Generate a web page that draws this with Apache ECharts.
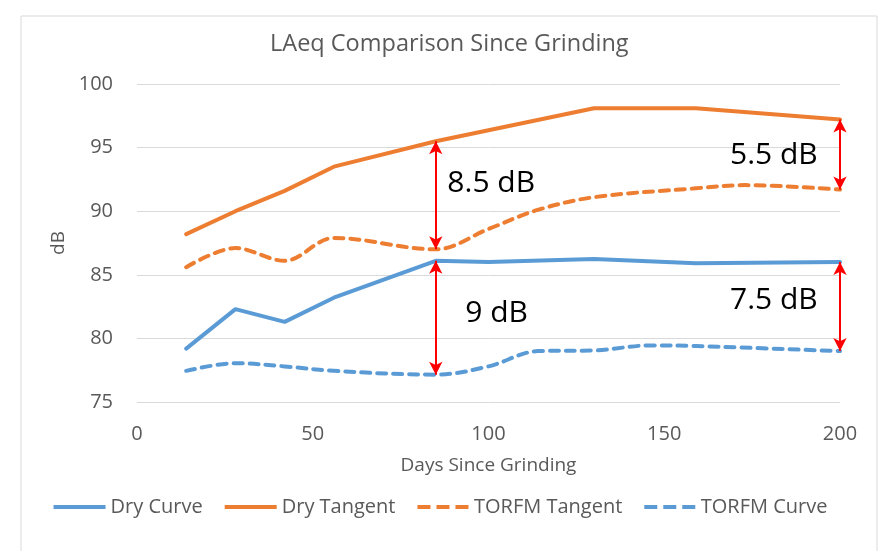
<!DOCTYPE html>
<html>
<head>
<meta charset="utf-8">
<script src="https://cdn.jsdelivr.net/npm/echarts@6/dist/echarts.min.js"></script>
<style>
  html, body { margin: 0; padding: 0; background: #ffffff; }
  #chart { width: 881px; height: 551px; }
</style>
</head>
<body>
<div id="chart"></div>
<script>
// Days since grinding at which each series was measured, and the LAeq (dB) readings
var dryCurveDays = [14, 28, 42, 56, 85, 100, 130, 159, 200];
var dryCurveValues = [79.2, 82.3, 81.3, 83.2, 86.1, 86.0, 86.25, 85.9, 86.0];

var dryTangentDays = [14, 28, 42, 56, 85, 130, 159, 200];
var dryTangentValues = [88.2, 90.0, 91.6, 93.5, 95.5, 98.1, 98.1, 97.2];

var torfmTangentDays = [14, 28, 42, 56, 85, 100, 114, 130, 159, 173, 200];
var torfmTangentValues = [85.6, 87.1, 86.1, 87.9, 87.0, 88.6, 90.1, 91.1, 91.8, 92.05, 91.7];

var torfmCurveDays = [14, 28, 42, 56, 85, 100, 114, 130, 146, 159, 200];
var torfmCurveValues = [77.45, 78.05, 77.8, 77.45, 77.15, 77.8, 79.0, 79.05, 79.45, 79.4, 79.0];

var seriesNames = ['Dry Curve', 'Dry Tangent', 'TORFM Tangent', 'TORFM Curve'];

// Difference annotations: arrow day, upper series, lower series, text and where the text sits
var gapNotes = [
  { day: 85,  upper: 'dryTangent', lower: 'torfmTangent', text: '8.5 dB', at: [88.3, 92.2] },
  { day: 85,  upper: 'dryCurve',   lower: 'torfmCurve',   text: '9 dB',   at: [93.4, 82.0] },
  { day: 200, upper: 'dryTangent', lower: 'torfmTangent', text: '5.5 dB', at: [168.7, 94.4] },
  { day: 200, upper: 'dryCurve',   lower: 'torfmCurve',   text: '7.5 dB', at: [168.7, 82.95] }
];

var xTicks = { min: 0, max: 200, interval: 50 };
var yTicks = { min: 75, max: 100, interval: 5 };

function pairs(days, values) {
  return days.map(function (d, i) { return [d, values[i]]; });
}

var seriesData = {
  dryCurve: { days: dryCurveDays, values: dryCurveValues },
  dryTangent: { days: dryTangentDays, values: dryTangentValues },
  torfmTangent: { days: torfmTangentDays, values: torfmTangentValues },
  torfmCurve: { days: torfmCurveDays, values: torfmCurveValues }
};

function valueAt(key, day) {
  var s = seriesData[key];
  return s.values[s.days.indexOf(day)];
}

var FONT = 'Open Sans';
var BLUE = '#5B9BD5';
var ORANGE = '#ED7D31';
var RED = '#FF0000';

// Legend keys: a plain bar for solid series, three short bars for dashed ones
var SOLID_KEY = 'path://M0,0 L52,0 L52,4 L0,4 Z';
var DASH_KEY = 'path://M1,0 L14,0 L14,4 L1,4 Z M20,0 L33,0 L33,4 L20,4 Z M39,0 L52,0 L52,4 L39,4 Z';
var legendKeys = [SOLID_KEY, SOLID_KEY, DASH_KEY, DASH_KEY];

var arrowLines = gapNotes.map(function (n) {
  return [
    { coord: [n.day, valueAt(n.upper, n.day)] },
    { coord: [n.day, valueAt(n.lower, n.day)] }
  ];
});

var noteLabels = gapNotes.map(function (n) {
  return {
    coord: n.at,
    value: n.text,
    label: { formatter: n.text }
  };
});

var chart = echarts.init(document.getElementById('chart'), null, { renderer: 'canvas' });

chart.setOption({
  backgroundColor: '#ffffff',
  animation: false,
  textStyle: { fontFamily: FONT },
  graphic: [{
    type: 'rect',
    shape: { x: 21, y: 16, width: 856, height: 560 },
    style: { fill: 'none', stroke: '#D9D9D9', lineWidth: 1 },
    silent: true,
    z: -10
  }],
  title: {
    text: 'LAeq Comparison Since Grinding',
    left: 270,
    top: 32,
    padding: 0,
    textStyle: { fontFamily: FONT, fontSize: 23.5, fontWeight: 'normal', color: '#595959' }
  },
  legend: {
    data: seriesNames.map(function (name, i) {
      return { name: name, icon: legendKeys[i] };
    }),
    bottom: 29,
    left: 'center',
    itemWidth: 52,
    itemHeight: 4,
    itemGap: 22,
    textStyle: { fontFamily: FONT, fontSize: 20, color: '#595959' }
  },
  grid: { left: 137, right: 41, top: 84, bottom: 149, containLabel: false },
  xAxis: {
    type: 'value',
    min: xTicks.min,
    max: xTicks.max,
    interval: xTicks.interval,
    name: 'Days Since Grinding',
    nameLocation: 'middle',
    nameGap: 54,
    nameTextStyle: { fontFamily: FONT, fontSize: 19, color: '#595959' },
    axisLine: { show: false },
    axisTick: { show: false },
    splitLine: { show: false },
    axisLabel: { fontFamily: FONT, fontSize: 20, color: '#595959', margin: 22 }
  },
  yAxis: {
    type: 'value',
    min: yTicks.min,
    max: yTicks.max,
    interval: yTicks.interval,
    name: 'dB',
    nameLocation: 'middle',
    nameGap: 68,
    nameTextStyle: { fontFamily: FONT, fontSize: 19, color: '#595959' },
    axisLine: { show: false },
    axisTick: { show: false },
    splitLine: { show: true, lineStyle: { color: '#D9D9D9', width: 1 } },
    axisLabel: { fontFamily: FONT, fontSize: 20, color: '#595959', margin: 24 }
  },
  series: [
    {
      name: 'Dry Curve',
      type: 'line',
      data: pairs(dryCurveDays, dryCurveValues),
      showSymbol: false,
      symbol: 'none',
      color: BLUE,
      lineStyle: { color: BLUE, width: 4, cap: 'round', join: 'round' },
      z: 3
    },
    {
      name: 'Dry Tangent',
      type: 'line',
      data: pairs(dryTangentDays, dryTangentValues),
      showSymbol: false,
      symbol: 'none',
      color: ORANGE,
      lineStyle: { color: ORANGE, width: 4, cap: 'round', join: 'round' },
      z: 3
    },
    {
      name: 'TORFM Tangent',
      type: 'line',
      data: pairs(torfmTangentDays, torfmTangentValues),
      showSymbol: false,
      symbol: 'none',
      smooth: 0.35,
      color: ORANGE,
      lineStyle: { color: ORANGE, width: 4, type: [9, 7], cap: 'round', join: 'round' },
      z: 3
    },
    {
      name: 'TORFM Curve',
      type: 'line',
      data: pairs(torfmCurveDays, torfmCurveValues),
      showSymbol: false,
      symbol: 'none',
      smooth: 0.35,
      color: BLUE,
      lineStyle: { color: BLUE, width: 4, type: [9, 7], cap: 'round', join: 'round' },
      z: 3
    },
    {
      name: 'gaps',
      type: 'line',
      data: [],
      silent: true,
      z: 5,
      markLine: {
        silent: true,
        symbol: ['arrow', 'arrow'],
        symbolSize: [10, 13],
        label: { show: false },
        lineStyle: { color: RED, width: 2, type: 'solid' },
        emphasis: { disabled: true },
        animation: false,
        data: arrowLines
      },
      markPoint: {
        silent: true,
        symbol: 'circle',
        symbolSize: 0,
        itemStyle: { color: 'transparent' },
        label: {
          show: true,
          position: 'right',
          distance: 0,
          fontFamily: FONT,
          fontSize: 30,
          color: '#000000'
        },
        animation: false,
        data: noteLabels
      }
    }
  ]
});
</script>
</body>
</html>
